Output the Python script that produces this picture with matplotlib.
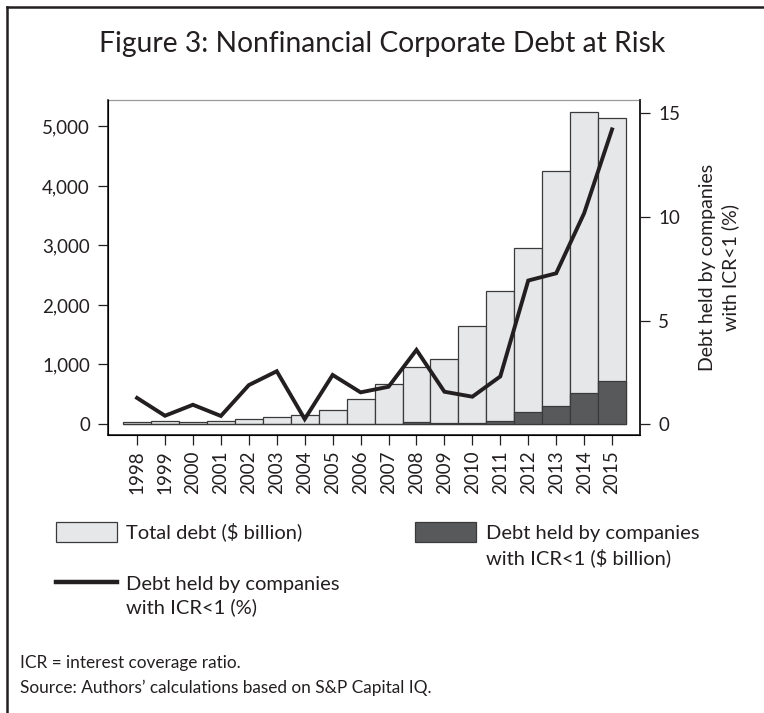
import matplotlib.pyplot as plt
from matplotlib.patches import Rectangle
from matplotlib.lines import Line2D
from matplotlib.ticker import FuncFormatter

plt.rcParams['font.family'] = ['Lato', 'DejaVu Sans']

years = list(range(1998, 2016))
total_debt = [28, 50, 40, 45, 80, 118, 157, 236, 416, 674, 961, 1096, 1640, 2236, 2955, 4253, 5242, 5140]
risk_debt = [3, 3, 3, 3, 3, 3, 3, 3, 4, 8, 34, 17, 17, 50, 202, 309, 528, 730]
risk_pct = [1.26, 0.40, 0.93, 0.39, 1.88, 2.55, 0.24, 2.37, 1.53, 1.80, 3.58, 1.56, 1.32, 2.30, 6.93, 7.28, 10.18, 14.23]

light = '#e6e7e8'
dark = '#58595b'
ink = '#231f20'

W, H = 764, 713
fig = plt.figure(figsize=(W / 100, H / 100), dpi=100)


def fx(px):
    return px / W


def fy(py):
    return 1 - py / H


# frame: only top and left edges are visible
fig.add_artist(Line2D([fx(7), fx(764)], [fy(7), fy(7)], transform=fig.transFigure, color=ink, lw=1.8))
fig.add_artist(Line2D([fx(7), fx(7)], [fy(7), fy(713)], transform=fig.transFigure, color=ink, lw=1.8))

fig.text(fx(382), fy(44), 'Figure 3: Nonfinancial Corporate Debt at Risk',
         ha='center', va='center', fontsize=20.3, color=ink)

ax = fig.add_axes([fx(108), fy(435), 532 / W, 335 / H])
ax.bar(years, total_debt, width=1.0, color=light, ec='#3a3a3a', lw=0.9, zorder=2)
ax.bar(years, risk_debt, width=1.0, color=dark, ec='#3a3a3a', lw=0.9, zorder=3)
ax.set_xlim(1996.96, 2016.0)
ax.set_ylim(-185, 5445)
ax.set_yticks([0, 1000, 2000, 3000, 4000, 5000])
ax.yaxis.set_major_formatter(FuncFormatter(lambda v, p: f'{int(v):,}'))
ax.set_xticks(years)
ax.set_xticklabels([str(y) for y in years], rotation=90)
ax.tick_params(axis='both', labelsize=13.5, colors=ink, length=7, width=0.9)
ax.tick_params(axis='x', pad=4)
ax.tick_params(axis='y', pad=6)
for s in ['left', 'bottom', 'right']:
    ax.spines[s].set_color(ink)
    ax.spines[s].set_linewidth(1.2)
ax.spines['top'].set_color('#9a9a9a')
ax.spines['top'].set_linewidth(0.9)

ax2 = ax.twinx()
ax2.plot(years, risk_pct, color=ink, lw=2.8, solid_joinstyle='miter', zorder=5)
ax2.set_ylim(-0.53, 15.65)
ax2.set_yticks([0, 5, 10, 15])
ax2.tick_params(axis='y', labelsize=13.5, colors=ink, length=7, width=0.9, pad=6)
ax2.spines['right'].set_color(ink)
ax2.spines['right'].set_linewidth(1.2)
ax2.spines['top'].set_visible(False)
ax2.set_ylabel('Debt held by companies\nwith ICR<1 (%)', fontsize=14, color=ink,
               rotation=90, labelpad=14, linespacing=1.3)

# legend
fig.add_artist(Rectangle((fx(56), fy(542)), 61 / W, 20 / H, transform=fig.transFigure,
                         fc=light, ec='#3a3a3a', lw=0.9))
fig.text(fx(126), fy(532), 'Total debt ($ billion)', ha='left', va='center',
         fontsize=14.5, color=ink)
fig.add_artist(Rectangle((fx(415), fy(542)), 61 / W, 20 / H, transform=fig.transFigure,
                         fc=dark, ec='#3a3a3a', lw=0.9))
fig.text(fx(486), fy(546), 'Debt held by companies\nwith ICR<1 ($ billion)', ha='left',
         va='center', fontsize=14.5, color=ink, linespacing=1.4)
fig.add_artist(Line2D([fx(56), fx(117)], [fy(582), fy(582)], transform=fig.transFigure,
                      color=ink, lw=3.2))
fig.text(fx(126), fy(596), 'Debt held by companies\nwith ICR<1 (%)', ha='left',
         va='center', fontsize=14.5, color=ink, linespacing=1.4)

fig.text(fx(20), fy(663), 'ICR = interest coverage ratio.', ha='left', va='center',
         fontsize=12.4, color=ink)
fig.text(fx(20), fy(688), "Source: Authors\u2019 calculations based on S&P Capital IQ.",
         ha='left', va='center', fontsize=12.4, color=ink)

fig.savefig('out.png', dpi=100)
